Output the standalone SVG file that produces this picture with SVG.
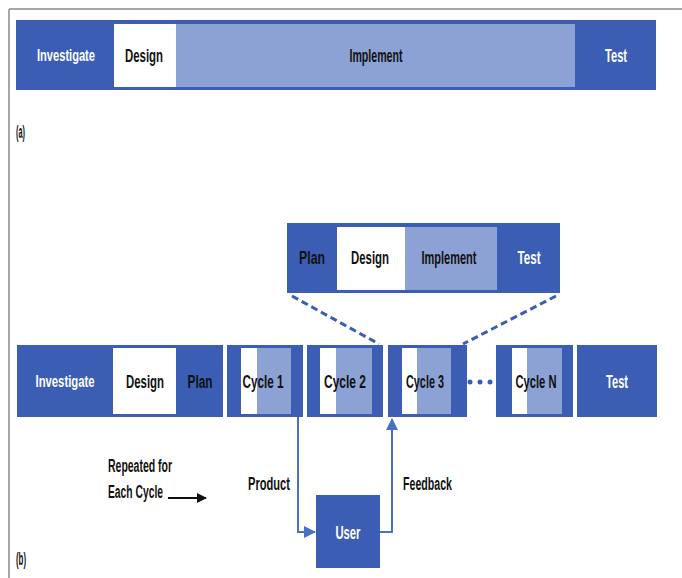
<svg xmlns="http://www.w3.org/2000/svg" width="682" height="578" viewBox="0 0 682 578">
<style>
.dk{fill:#3b5eb4}
.lt{fill:#8ca2d5}
.wh{fill:#ffffff}
.t{font-family:"Liberation Sans",Arial,sans-serif;font-weight:bold;font-size:18px;text-anchor:middle}
.inv{font-size:16px}
.tw{fill:#ffffff}
.tb{fill:#111111}
.lbl{font-family:"Liberation Sans",Arial,sans-serif;font-weight:bold;font-size:18px;fill:#111111}
.conn{fill:none;stroke:#4a6fc3;stroke-width:2}
.dash{fill:none;stroke:#3b5eb4;stroke-width:3;stroke-dasharray:7 4}
</style>
<defs>
<marker id="ah" markerWidth="12" markerHeight="12" refX="11" refY="6" orient="auto" markerUnits="userSpaceOnUse">
<path d="M0,0 L12,6 L0,12 Z" fill="#4a6fc3"/>
</marker>
<marker id="ahk" markerWidth="10" markerHeight="10" refX="9" refY="5" orient="auto" markerUnits="userSpaceOnUse">
<path d="M0,0 L10,5 L0,10 Z" fill="#111111"/>
</marker>
</defs>
<rect x="0" y="0" width="682" height="578" fill="#ffffff"/>
<line x1="9" y1="9" x2="682" y2="9" stroke="#8a8a8a" stroke-width="1.5"/>
<line x1="9" y1="9" x2="9" y2="578" stroke="#8a8a8a" stroke-width="1.5"/>

<!-- (a) bar -->
<g id="bar-a">
<rect class="dk" x="16" y="20" width="640" height="70"/>
<g id="a-investigate"><text class="t tw inv" x="66" y="61" textLength="58" lengthAdjust="spacingAndGlyphs">Investigate</text></g>
<g id="a-design"><rect class="wh" x="114" y="24" width="62" height="63"/><text class="t tb" x="144" y="62" textLength="38" lengthAdjust="spacingAndGlyphs">Design</text></g>
<g id="a-implement"><rect class="lt" x="176" y="24" width="399" height="63"/><text class="t tb" x="376" y="62" textLength="53" lengthAdjust="spacingAndGlyphs">Implement</text></g>
<g id="a-test"><text class="t tw" x="616" y="62" textLength="22" lengthAdjust="spacingAndGlyphs">Test</text></g>
</g>
<text class="lbl" x="16" y="138" textLength="9" lengthAdjust="spacingAndGlyphs">(a)</text>

<!-- connectors -->
<g id="connectors">
<line class="dash" x1="292" y1="296" x2="379" y2="344"/>
<line class="dash" x1="556" y1="296" x2="463" y2="344"/>
<polyline class="conn" points="298,417 298,532 315,532" marker-end="url(#ah)"/>
<polyline class="conn" points="380,532 392,532 392,419" marker-end="url(#ah)"/>
<line x1="168" y1="498" x2="206" y2="498" stroke="#111111" stroke-width="2" marker-end="url(#ahk)"/>
</g>

<!-- (b) expanded cycle bar -->
<g id="cycle-detail">
<rect class="dk" x="287" y="223" width="273" height="70"/>
<g id="c-plan"><text class="t tb" x="312" y="264" textLength="26" lengthAdjust="spacingAndGlyphs">Plan</text></g>
<g id="c-design"><rect class="wh" x="337" y="227" width="68" height="63"/><text class="t tb" x="370" y="264" textLength="38" lengthAdjust="spacingAndGlyphs">Design</text></g>
<g id="c-implement"><rect class="lt" x="405" y="227" width="92" height="63"/><text class="t tb" x="449" y="264" textLength="55" lengthAdjust="spacingAndGlyphs">Implement</text></g>
<g id="c-test"><text class="t tw" x="529" y="264" textLength="23" lengthAdjust="spacingAndGlyphs">Test</text></g>
</g>

<!-- (b) main bar -->
<g id="bar-b">
<rect class="dk" x="17" y="345" width="450" height="72"/>
<rect class="dk" x="496" y="345" width="161" height="72"/>
<g id="b-investigate"><text class="t tw inv" x="65" y="387" textLength="59" lengthAdjust="spacingAndGlyphs">Investigate</text></g>
<g id="b-design"><rect class="wh" x="113" y="348" width="63" height="66"/><text class="t tb" x="145" y="388" textLength="38" lengthAdjust="spacingAndGlyphs">Design</text></g>
<g id="b-plan"><text class="t tb" x="200" y="388" textLength="25" lengthAdjust="spacingAndGlyphs">Plan</text></g>
<rect class="wh" x="223" y="345" width="4" height="72"/>
<g id="b-cycle1"><rect class="wh" x="241" y="348" width="16" height="66"/><rect class="lt" x="257" y="348" width="34" height="66"/><text class="t tb" x="263" y="388" textLength="41" lengthAdjust="spacingAndGlyphs">Cycle 1</text></g>
<rect class="wh" x="303" y="345" width="4" height="72"/>
<g id="b-cycle2"><rect class="wh" x="320" y="348" width="16" height="66"/><rect class="lt" x="336" y="348" width="36" height="66"/><text class="t tb" x="345" y="388" textLength="42" lengthAdjust="spacingAndGlyphs">Cycle 2</text></g>
<rect class="wh" x="383" y="345" width="5" height="72"/>
<g id="b-cycle3"><rect class="wh" x="402" y="348" width="15" height="66"/><rect class="lt" x="417" y="348" width="34" height="66"/><text class="t tb" x="425" y="388" textLength="38" lengthAdjust="spacingAndGlyphs">Cycle 3</text></g>
<g id="b-dots"><circle cx="470" cy="382" r="2.5" fill="#3b5eb4"/><circle cx="480" cy="382" r="2.5" fill="#3b5eb4"/><circle cx="490" cy="382" r="2.5" fill="#3b5eb4"/></g>
<g id="b-cyclen"><rect class="wh" x="512" y="348" width="15" height="66"/><rect class="lt" x="527" y="348" width="35" height="66"/><text class="t tb" x="536" y="388" textLength="41" lengthAdjust="spacingAndGlyphs">Cycle N</text></g>
<rect class="wh" x="573" y="345" width="4" height="72"/>
<g id="b-test"><text class="t tw" x="617" y="388" textLength="22" lengthAdjust="spacingAndGlyphs">Test</text></g>
</g>

<g id="user">
<rect class="dk" x="316" y="495" width="64" height="73"/>
<text class="t tw" x="348" y="539" textLength="25" lengthAdjust="spacingAndGlyphs">User</text>
</g>

<text class="lbl" x="248" y="490" textLength="42" lengthAdjust="spacingAndGlyphs">Product</text>
<text class="lbl" x="403" y="490" textLength="49" lengthAdjust="spacingAndGlyphs">Feedback</text>
<text class="lbl" x="108" y="472" textLength="64" lengthAdjust="spacingAndGlyphs">Repeated for</text>
<text class="lbl" x="108" y="498" textLength="55" lengthAdjust="spacingAndGlyphs">Each Cycle</text>
<text class="lbl" x="16" y="565" textLength="10" lengthAdjust="spacingAndGlyphs">(b)</text>
</svg>
